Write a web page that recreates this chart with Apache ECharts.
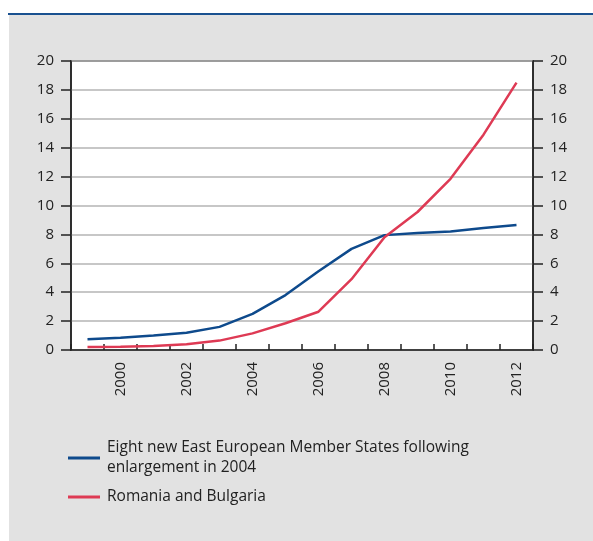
<!DOCTYPE html>
<html>
<head>
    <meta charset="utf-8">
    <script type="text/javascript" src="https://cdn.jsdelivr.net/npm/echarts@6/dist/echarts.min.js"></script>
</head>
<body style="margin: 0">
    <div id="container" style="height: 541px; width: 593px;"></div>
    <script type="text/javascript">
    // years on the x axis
    var years = ['1999', '2000', '2001', '2002', '2003', '2004', '2005',
                 '2006', '2007', '2008', '2009', '2010', '2011', '2012'];
    // Eight new East European Member States following enlargement in 2004
    var eastEight = [0.75, 0.85, 1.0, 1.2, 1.6, 2.5, 3.8, 5.45, 7.0, 7.95, 8.1, 8.2, 8.45, 8.65];
    // Romania and Bulgaria
    var romBul = [0.2, 0.22, 0.28, 0.4, 0.65, 1.15, 1.85, 2.65, 4.9, 7.8, 9.55, 11.85, 14.9, 18.5];
    var yTicks = { min: 0, max: 20, interval: 2 };

    var names = ['Eight new East European Member States following\nenlargement in 2004',
                 'Romania and Bulgaria'];
    var font = '"Open Sans", "Noto Sans", sans-serif';

    var dom = document.getElementById('container');
    var myChart = echarts.init(dom);

    function yAxisOf(pos) {
        return {
            type: 'value',
            position: pos,
            min: yTicks.min,
            max: yTicks.max,
            interval: yTicks.interval,
            axisLine: { show: true, lineStyle: { color: '#222', width: 1.5 } },
            axisTick: { show: true, length: 10, lineStyle: { color: '#222', width: 1.5 } },
            axisLabel: { margin: 17, fontSize: 15, color: '#222', fontFamily: font },
            splitLine: { show: pos === 'left', lineStyle: { color: '#b4b4b4', width: 1.5 } }
        };
    }

    var option = {
        backgroundColor: '#fff',
        animation: false,
        graphic: [{
            type: 'rect',
            z: -10,
            shape: { x: 9, y: 15, width: 584, height: 526 },
            style: { fill: '#e2e2e2' }
        }, {
            type: 'line',
            z: -9,
            shape: { x1: 8, y1: 14, x2: 593, y2: 14 },
            style: { stroke: '#1a5190', lineWidth: 2 }
        }],
        grid: {
            left: 71,
            right: 60,
            top: 61,
            bottom: 191,
            show: true,
            backgroundColor: '#fff',
            borderColor: '#222',
            borderWidth: 1.5
        },
        legend: {
            orient: 'vertical',
            left: 63,
            top: 433,
            itemWidth: 32,
            itemHeight: 3,
            itemGap: 9,
            icon: 'rect',
            textStyle: { fontSize: 15.5, color: '#222', fontFamily: font, lineHeight: 20, padding: [0, 0, 0, 2] },
            data: names
        },
        xAxis: {
            type: 'category',
            data: years,
            boundaryGap: true,
            axisLine: { show: true, lineStyle: { color: '#222', width: 1.5 } },
            axisTick: { show: true, inside: true, length: 6, interval: 0, lineStyle: { color: '#222', width: 1.5 } },
            axisLabel: {
                rotate: 90,
                margin: 12,
                fontSize: 15,
                color: '#222',
                fontFamily: font,
                interval: function (index) { return index % 2 === 1; }
            },
            splitLine: { show: false }
        },
        yAxis: [yAxisOf('left'), yAxisOf('right')],
        series: [{
            name: names[0],
            type: 'line',
            data: eastEight,
            symbol: 'none',
            itemStyle: { color: '#0e4a8c' },
            lineStyle: { color: '#0e4a8c', width: 2.5 }
        }, {
            name: names[1],
            type: 'line',
            data: romBul,
            symbol: 'none',
            itemStyle: { color: '#de3a54' },
            lineStyle: { color: '#de3a54', width: 2.5 }
        }]
    };

    myChart.setOption(option);
    </script>
</body>
</html>
